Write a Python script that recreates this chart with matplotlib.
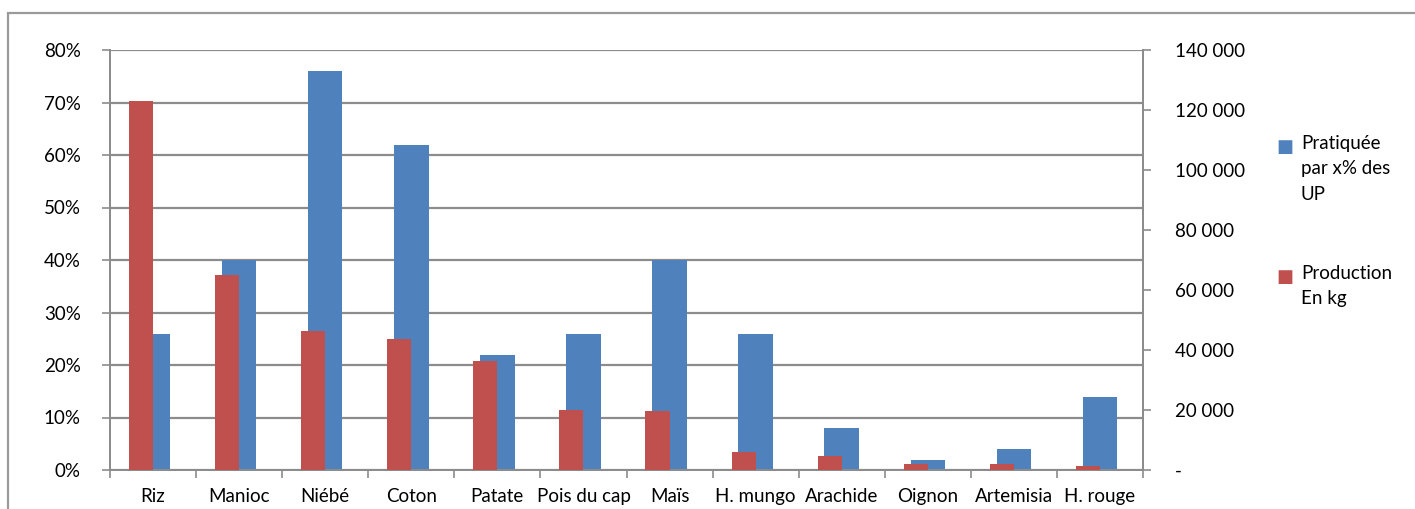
import matplotlib
matplotlib.use("Agg")
import matplotlib.pyplot as plt
import numpy as np
from matplotlib.patches import Rectangle
from matplotlib.ticker import FuncFormatter

categories = ["Riz", "Manioc", "Niébé", "Coton", "Patate", "Pois du cap", "Maïs",
              "H. mungo", "Arachide", "Oignon", "Artemisia", "H. rouge"]
pratiquee_pct = [26, 40, 76, 62, 22, 26, 40, 26, 8, 2, 4, 14]
production_kg = [123000, 65000, 46300, 43600, 36200, 20000, 19600, 5900, 4700, 2000, 2000, 1300]
third_series = [0.2] * 12

pct_ticks = [0, 10, 20, 30, 40, 50, 60, 70, 80]
kg_ticks = [0, 20000, 40000, 60000, 80000, 100000, 120000, 140000]

BLUE = "#4F81BD"
RED = "#C0504D"
GREEN = "#9BBB59"
GRID = "#8C8C8C"
FS = 13.5

plt.rcParams["font.family"] = ["Lato", "DejaVu Sans"]

fig = plt.figure(figsize=(14.15, 5.09), dpi=100)
W, H = 1415, 509

# outer chart frame
fig.add_artist(Rectangle((8 / W, -0.1), 1.2, 1 - 13 / H + 0.1, transform=fig.transFigure,
                         fill=False, edgecolor="#9A9A9A", linewidth=1.6))

ax = fig.add_axes([110 / W, 1 - 470 / H, (1143 - 110) / W, (470 - 50) / H])
ax2 = ax.twinx()

x = np.arange(len(categories))
ax.bar(x, pratiquee_pct, width=0.40, color=BLUE, zorder=2)
ax.bar(x + 0.05, third_series, width=0.48, color=GREEN, alpha=0.7, zorder=2)
ax2.bar(x - 0.14, production_kg, width=0.28, color=RED, zorder=3)

ax.set_xlim(-0.5, len(categories) - 0.5)
ax.set_ylim(0, 80)
ax2.set_ylim(0, 140000)

ax.set_yticks(pct_ticks)
ax.set_yticklabels([f"{v}%" for v in pct_ticks])
ax2.set_yticks(kg_ticks)
ax2.yaxis.set_major_formatter(FuncFormatter(
    lambda v, p: "-" if v == 0 else f"{int(v):,}".replace(",", " ")))

ax.set_xticks(x)
ax.set_xticklabels(categories)
ax.set_xticks(np.arange(-0.5, len(categories) - 0.4, 1), minor=True)
ax.tick_params(axis="x", which="major", length=0, pad=13, labelsize=FS, colors="black")
ax.tick_params(axis="x", which="minor", length=6, width=1.2, color=GRID, direction="out")
ax.tick_params(axis="y", length=6, width=1.2, color=GRID, labelsize=FS, pad=15)
ax2.tick_params(axis="y", length=6, width=1.2, color=GRID, labelsize=FS, pad=17)

ax.yaxis.grid(True, color=GRID, linewidth=1.6, zorder=0)
ax.set_axisbelow(True)
ax.patch.set_visible(False)

for a in (ax, ax2):
    a.spines["top"].set_visible(False)
    for s in ("left", "right", "bottom"):
        a.spines[s].set_color(GRID)
        a.spines[s].set_linewidth(1.4)

# legend on the right
fig.text(1285 / W, 1 - 147 / H, "\u25A0", color=BLUE, fontsize=13, va="center", ha="center",
         family=["DejaVu Sans"])
fig.text(1301 / W, 1 - 135 / H, "Pratiquée\npar x% des\nUP", fontsize=FS, va="top",
         ha="left", linespacing=1.6)
fig.text(1285 / W, 1 - 277 / H, "\u25A0", color=RED, fontsize=13, va="center", ha="center",
         family=["DejaVu Sans"])
fig.text(1301 / W, 1 - 265 / H, "Production\nEn kg", fontsize=FS, va="top",
         ha="left", linespacing=1.6)

fig.savefig("out.png", dpi=100)
